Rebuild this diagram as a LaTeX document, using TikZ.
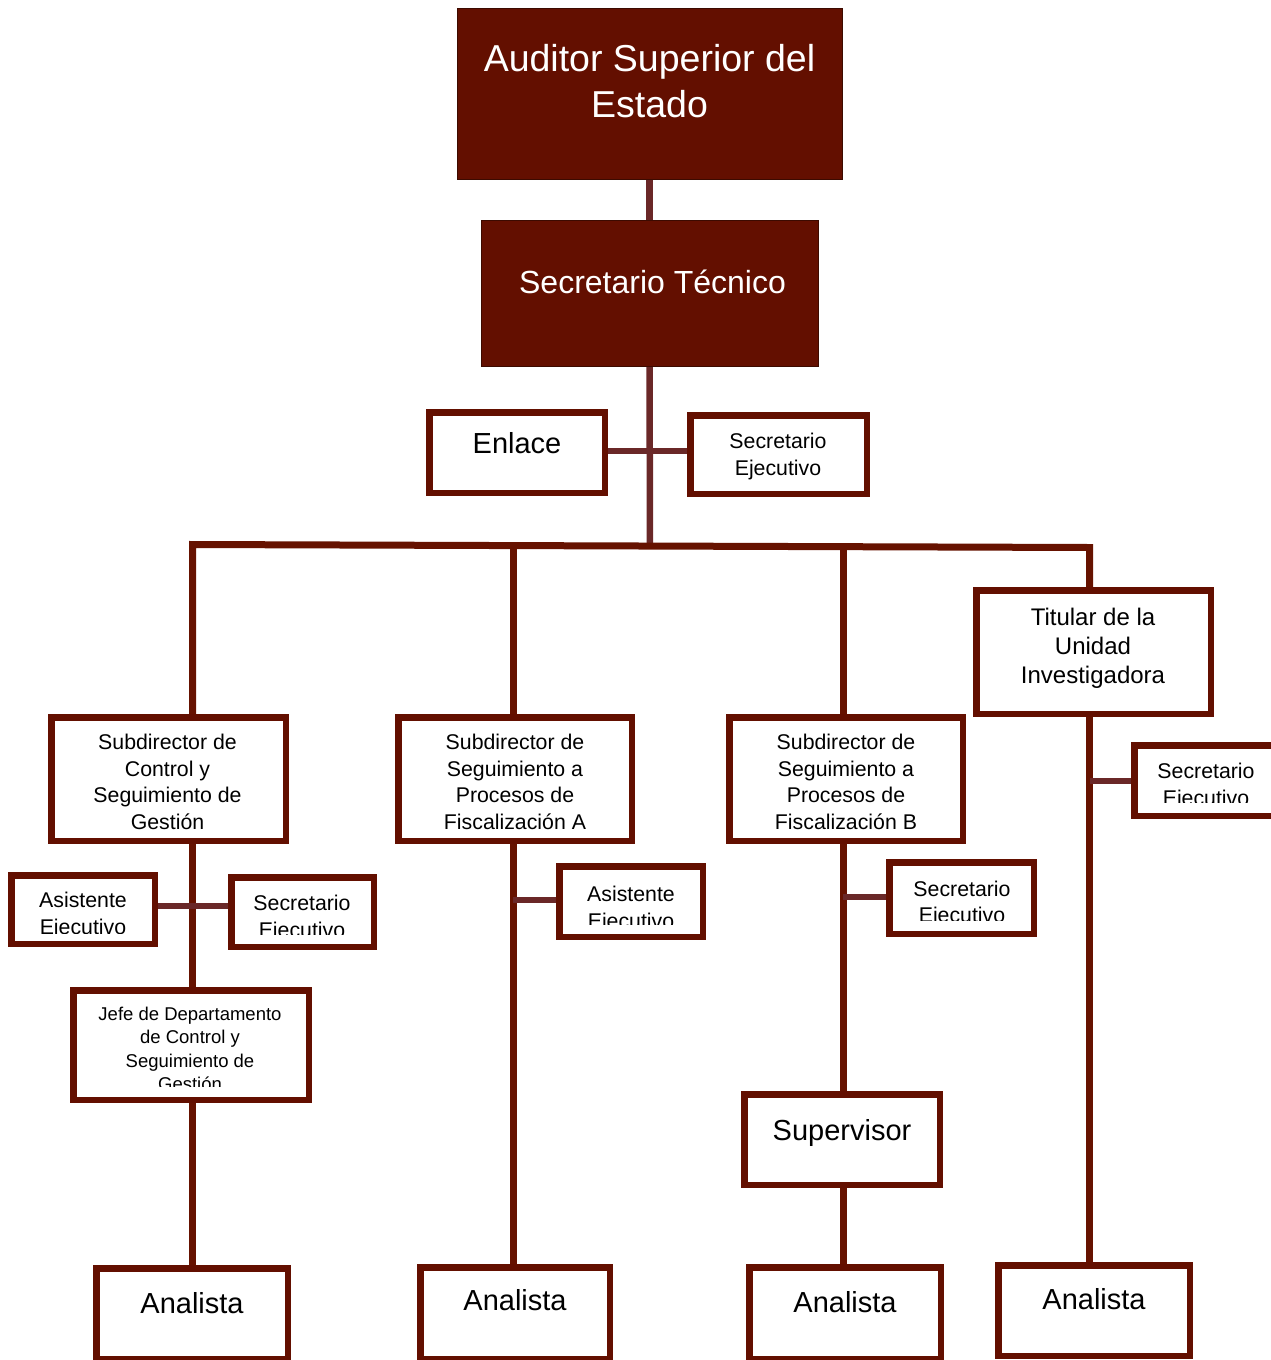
\documentclass[tikz,border=0pt]{standalone}
\usepackage{fontspec}
\setmainfont{Liberation Sans}
\usetikzlibrary{backgrounds}
\definecolor{boxred}{RGB}{99,15,0}
\definecolor{linkred}{RGB}{102,18,0}
\definecolor{linkbrown}{RGB}{106,40,40}
\definecolor{headedge}{RGB}{60,10,0}

\begin{document}
\begin{tikzpicture}[x=1pt,y=-1pt,
  head/.style={draw=headedge, line width=1pt, fill=boxred, inner sep=0pt},
  unit/.style={draw=boxred, line width=6.5pt, fill=white, inner sep=0pt},
  trunk/.style={draw=linkred, line width=7pt},
  branch/.style={draw=linkbrown, line width=6.5pt},
  % multi-line labels are anchored at the baseline of their last line
  lbl/.style={inner sep=0pt, align=center, anchor=base},
  fhuge/.style={font=\fontsize{37.5}{46}\selectfont, text=white},
  ftitle/.style={font=\fontsize{32}{38}\selectfont, text=white},
  flarge/.style={font=\fontsize{29}{34}\selectfont},
  fmed/.style={font=\fontsize{21.3}{26.5}\selectfont},
  ftit/.style={font=\fontsize{24}{29}\selectfont},
  fsmall/.style={font=\fontsize{18.5}{23.5}\selectfont}
]
\useasboundingbox (0,0) rectangle (1271,1360);
\clip (0,0) rectangle (1271,1360);

% top boxes
\node[head, minimum width=385, minimum height=171] (aud) at (649.5,93.5) {};
\node[head, minimum width=337, minimum height=146] (st) at (649.5,293) {};

% staff of the Secretario Técnico
\node[unit, minimum width=175.5, minimum height=80.5] (enl) at (517,452.5) {};
\node[unit, minimum width=176.5, minimum height=78.5] (seT) at (778.5,454.5) {};

% second level
\node[unit, minimum width=234.5, minimum height=123.5] (subC) at (168.5,779) {};
\node[unit, minimum width=233.5, minimum height=123.5] (subA) at (515,779) {};
\node[unit, minimum width=233.5, minimum height=123.5] (subB) at (846,779) {};
\node[unit, minimum width=234.5, minimum height=123.5] (tit) at (1093.5,652) {};

% assistants and secretaries
\node[unit, minimum width=143.5, minimum height=68.5] (asisL) at (83,909.5) {};
\node[unit, minimum width=142.5, minimum height=69.5] (seL) at (302.5,912) {};
\node[unit, minimum width=143.5, minimum height=70.5] (asisA) at (631,901.5) {};
\node[unit, minimum width=144.5, minimum height=71.5] (seB) at (961.5,898) {};
\node[unit, minimum width=144.5, minimum height=70.5] (seR) at (1206.5,780.5) {};

% lower levels
\node[unit, minimum width=235.5, minimum height=109.5] (jefe) at (191,1045) {};
\node[unit, minimum width=195.5, minimum height=90.5] (sup) at (842,1139.5) {};
\node[unit, minimum width=191.5, minimum height=90.5] (an1) at (192,1313.5) {};
\node[unit, minimum width=189.5, minimum height=91.5] (an2) at (515,1313) {};
\node[unit, minimum width=191.5, minimum height=91.5] (an3) at (845,1313) {};
\node[unit, minimum width=191.5, minimum height=90.5] (an4) at (1094,1310.5) {};

% connectors
\coordinate (busL) at (192.5,544.5);
\coordinate (busR) at (1089.5,547.5);
\coordinate (busM) at (650,546);
\coordinate (busA) at (513,545.6);
\coordinate (busB) at (843,546.7);
\coordinate (jL) at (192.5,906);
\coordinate (jA) at (513,900);
\coordinate (jB) at (843,897);
\coordinate (jR) at (1089.5,781);
\coordinate (jE) at (650,451);

\begin{scope}[on background layer]
  \draw[branch] (aud.south) -- (st.north);
  \draw[branch] (st.south) -- (busM);
  \draw[branch] (enl.east |- jE) -- (seT.west |- jE);
  \draw[trunk, line join=miter] (busL |- subC.north) -- (busL) -- (busR) -- (busR |- tit.north);
  \draw[trunk] (busA) -- (busA |- subA.north);
  \draw[trunk] (busB) -- (busB |- subB.north);
  % left branch
  \draw[trunk] (jL |- subC.south) -- (jL |- jefe.north);
  \draw[trunk] (jL |- jefe.south) -- (jL |- an1.north);
  \draw[branch] (asisL.east |- jL) -- (seL.west |- jL);
  % branch A
  \draw[trunk] (jA |- subA.south) -- (jA |- an2.north);
  \draw[branch] (jA) -- (asisA.west |- jA);
  % branch B
  \draw[trunk] (jB |- subB.south) -- (jB |- sup.north);
  \draw[trunk] (jB |- sup.south) -- (jB |- an3.north);
  \draw[branch] (jB) -- (seB.west |- jB);
  % investigating unit
  \draw[trunk] (jR |- tit.south) -- (jR |- an4.north);
  \draw[branch] (jR) -- (seR.west |- jR);
\end{scope}

% labels
\node[lbl, fhuge] (t-aud) at (649.5,117) {Auditor Superior del\\Estado};
\node[lbl, ftitle] (t-st) at (652.5,293) {Secretario Técnico};
\node[lbl, flarge] (t-enl) at (517,453) {Enlace};
\node[lbl, fmed] (t-seT) at (778,475) {Secretario\\Ejecutivo};
\node[lbl, fmed] (t-subC) at (167.5,829) {Subdirector de\\Control y\\Seguimiento de\\Gestión};
\node[lbl, fmed] (t-subA) at (515,829) {Subdirector de\\Seguimiento a\\Procesos de\\Fiscalización A};
\node[lbl, fmed] (t-subB) at (846,829) {Subdirector de\\Seguimiento a\\Procesos de\\Fiscalización B};
\node[lbl, ftit] (t-tit) at (1093,683) {Titular de la\\Unidad\\Investigadora};

\begin{scope}
  \clip (15,878) rectangle (152,933.5);
  \node[lbl, fmed] (t-asisL) at (83,934) {Asistente\\Ejecutivo};
\end{scope}
\begin{scope}
  \clip (235,880) rectangle (371,934);
  \node[lbl, fmed] (t-seL) at (302,937) {Secretario\\Ejecutivo};
\end{scope}
\begin{scope}
  \clip (563,870) rectangle (700,924);
  \node[lbl, fmed] (t-asisA) at (631,928) {Asistente\\Ejecutivo};
\end{scope}
\begin{scope}
  \clip (893,866) rectangle (1031,920);
  \node[lbl, fmed] (t-seB) at (962,922.5) {Secretario\\Ejecutivo};
\end{scope}
\begin{scope}
  \clip (1138,749) rectangle (1275,802);
  \node[lbl, fmed] (t-seR) at (1206,805) {Secretario\\Ejecutivo};
\end{scope}
\begin{scope}
  \clip (77,994) rectangle (305,1086);
  \node[lbl, fsmall] (t-jefe) at (190,1090.5) {Jefe de Departamento\\de Control y\\Seguimiento de\\Gestión};
\end{scope}

\node[lbl, flarge] (t-sup) at (842,1140) {Supervisor};
\node[lbl, flarge] (t-an1) at (192,1313) {Analista};
\node[lbl, flarge] (t-an2) at (515,1310) {Analista};
\node[lbl, flarge] (t-an3) at (845,1312) {Analista};
\node[lbl, flarge] (t-an4) at (1094,1309) {Analista};
\end{tikzpicture}
\end{document}
